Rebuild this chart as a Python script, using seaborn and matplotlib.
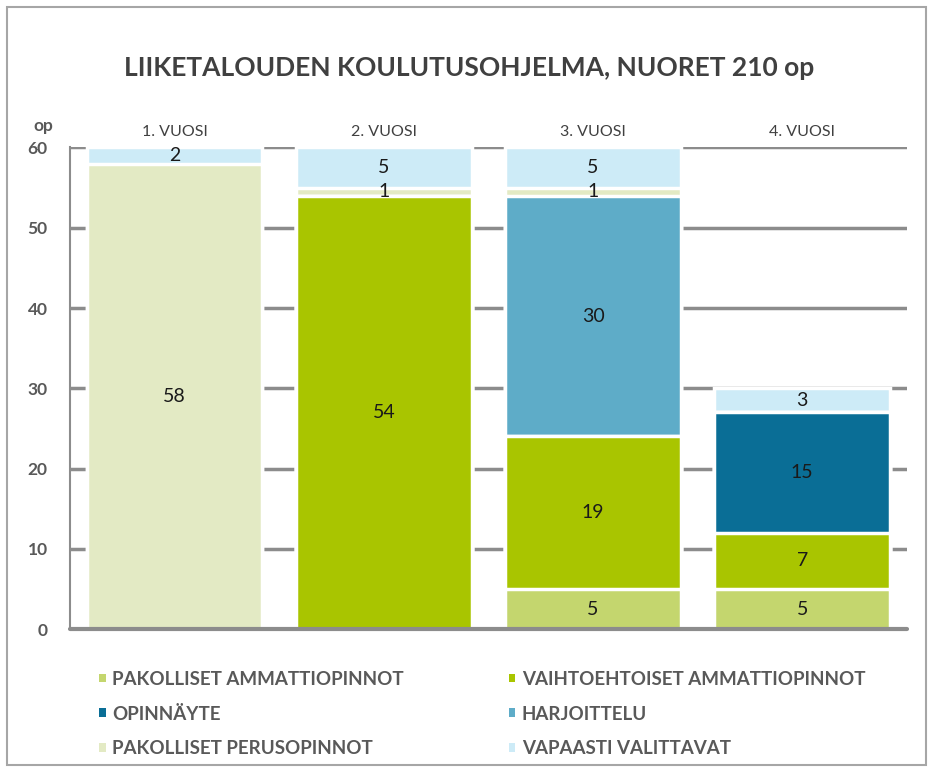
#pinottu pylväskaavio: liiketalouden koulutusohjelma

import numpy as np
import pandas as pd
import matplotlib.pyplot as plt
import seaborn as sns
from matplotlib.patches import Rectangle, Patch

#data
vuodet = ['1. VUOSI', '2. VUOSI', '3. VUOSI', '4. VUOSI']
sarjat = ['PAKOLLISET AMMATTIOPINNOT', 'VAIHTOEHTOISET AMMATTIOPINNOT', 'OPINNÄYTE',
          'HARJOITTELU', 'PAKOLLISET PERUSOPINNOT', 'VAPAASTI VALITTAVAT']
pakolliset_amm = [0, 0, 5, 5]
vaihtoehtoiset_amm = [0, 54, 19, 7]
opinnayte = [0, 0, 0, 15]
harjoittelu = [0, 0, 30, 0]
perusopinnot = [58, 1, 1, 0]
vapaasti = [2, 5, 5, 3]
varit = ['#C4D66E', '#A9C500', '#0A6E96', '#5EACC8', '#E3EAC4', '#CDEBF7']

arvot = [pakolliset_amm, vaihtoehtoiset_amm, opinnayte, harjoittelu, perusopinnot, vapaasti]
kumul = np.cumsum(np.array(arvot), axis=0)

sns.set_style('white')
plt.rcParams['font.family'] = ['Lato', 'DejaVu Sans']

fig = plt.figure(figsize=(9.33, 7.72), dpi=100)
ax = fig.add_axes([0.075, 0.185, 0.897, 0.624])

#piirrä kumulatiiviset pylväät ylhäältä alas
for i in range(len(sarjat) - 1, -1, -1):
    df = pd.DataFrame({'vuosi': vuodet, 'op': kumul[i]})
    sns.barplot(data=df, x='vuosi', y='op', color=varit[i], saturation=1,
                width=0.84, edgecolor='white', linewidth=2.5, ax=ax, zorder=2)

#arvot pylväisiin
for i in range(len(sarjat)):
    for j in range(len(vuodet)):
        v = arvot[i][j]
        if v > 0:
            ax.text(j, kumul[i][j] - v / 2, str(v), ha='center', va='center',
                    fontsize=14, color='#1a1a1a', zorder=5)

ax.set_ylim(0, 60)
ax.set_xlim(-0.5, 3.5)
ax.set_yticks(range(0, 61, 10))
ax.tick_params(axis='y', labelsize=12.5, labelcolor='#595959', length=0, pad=16)
for t in ax.get_yticklabels():
    t.set_fontweight('bold')
ax.xaxis.tick_top()
ax.tick_params(axis='x', labelsize=11.5, labelcolor='#404040', length=0, pad=6)
ax.set_xlabel('')
ax.set_ylabel('')
ax.grid(axis='y', color='#8c8c8c', linewidth=2.5, zorder=0)
ax.set_axisbelow(True)
for s in ['top', 'right', 'bottom']:
    ax.spines[s].set_visible(False)
ax.spines['left'].set_color('#8c8c8c')
ax.spines['left'].set_linewidth(1.5)
ax.axhline(0, color='#8c8c8c', linewidth=3, zorder=4, clip_on=False)
ax.text(-0.02, 1.045, 'op', transform=ax.transAxes, ha='right', va='center',
        fontsize=12.5, fontweight='bold', color='#595959')

#otsikko
fig.text(0.503, 0.912, 'LIIKETALOUDEN KOULUTUSOHJELMA, NUORET 210 op', ha='center',
         va='center', fontsize=19, fontweight='bold', color='#404040')

#selite
kahvat = [Patch(facecolor=varit[i], edgecolor='none') for i in [0, 1, 2, 3, 4, 5]]
jarj = [0, 2, 4, 1, 3, 5]
leg = fig.legend([kahvat[k] for k in jarj], [sarjat[k] for k in jarj], ncol=2,
                 loc='upper left', bbox_to_anchor=(0.088, 0.153), frameon=False,
                 handlelength=0.35, handleheight=0.35, handletextpad=0.35,
                 columnspacing=5.6, labelspacing=0.95,
                 prop={'size': 13.5, 'weight': 'bold'})
for t in leg.get_texts():
    t.set_color('#595959')

#kehys
fig.patches.append(Rectangle((0.008, 0.009), 0.984, 0.982, transform=fig.transFigure,
                             fill=False, edgecolor='#a6a6a6', linewidth=1.5))

plt.savefig('out.png', dpi=100)
